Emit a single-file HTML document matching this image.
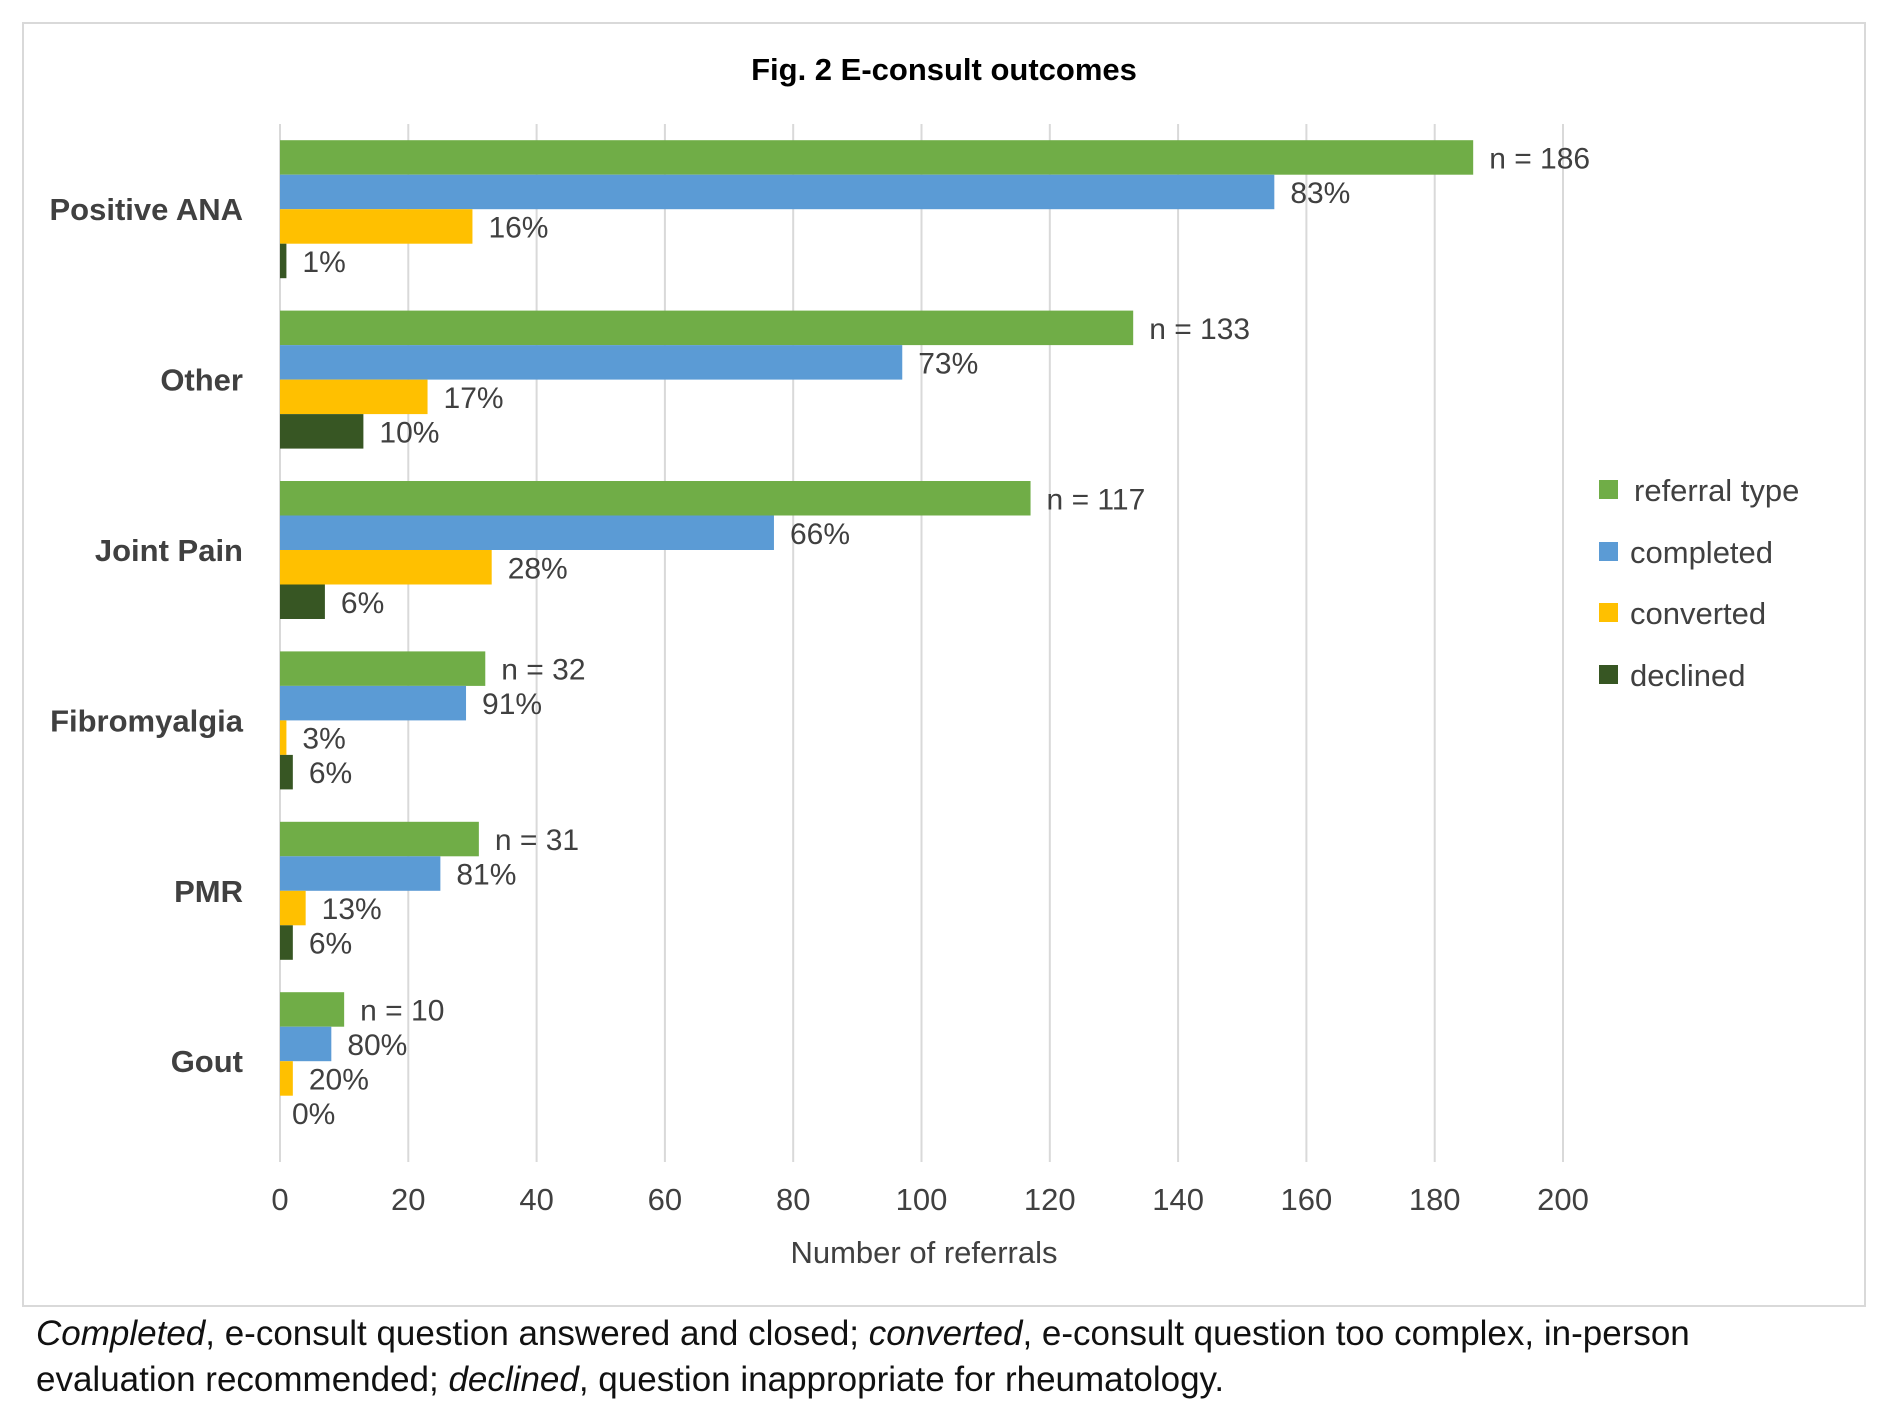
<!DOCTYPE html>
<html><head><meta charset="utf-8"><style>
body{margin:0;background:#fff;width:1888px;height:1410px;overflow:hidden;font-family:"Liberation Sans",sans-serif;}
svg text{font-family:"Liberation Sans",sans-serif;fill:#404040;}
</style></head><body>
<svg id="chart" width="1888" height="1410">
<rect x="23" y="23" width="1842" height="1283" fill="#fff" stroke="#d9d9d9" stroke-width="2"/>
<text x="944" y="80" text-anchor="middle" font-size="31" font-weight="bold" style="fill:#000">Fig. 2 E-consult outcomes</text>
<g id="grid"></g><g id="bars"></g><g id="labels"></g>
<text x="924" y="1263" text-anchor="middle" font-size="31">Number of referrals</text>
<g>
<g><rect x="1599" y="480" width="19" height="19" fill="#70ad47"/><text x="1634" y="501" font-size="31">referral type</text></g>
<g><rect x="1599" y="542" width="19" height="19" fill="#5b9bd5"/><text x="1630" y="563" font-size="31">completed</text></g>
<g><rect x="1599" y="603" width="19" height="19" fill="#ffc000"/><text x="1630" y="624" font-size="31">converted</text></g>
<g><rect x="1599" y="665" width="19" height="19" fill="#375623"/><text x="1630" y="686" font-size="31">declined</text></g>
</g>
<text font-size="35" style="fill:#111"><tspan x="36" y="1345"><tspan font-style="italic">Completed</tspan>, e-consult question answered and closed; <tspan font-style="italic">converted</tspan>, e-consult question too complex, in-person</tspan><tspan x="36" y="1391">evaluation recommended; <tspan font-style="italic">declined</tspan>, question inappropriate for rheumatology.</tspan></text>
</svg>
<script>
const categories=["Positive ANA","Other","Joint Pain","Fibromyalgia","PMR","Gout"];
const referral=[186,133,117,32,31,10];
const completed=[155,97,77,29,25,8];
const converted=[30,23,33,1,4,2];
const declined=[1,13,7,2,2,0];
const referralLabels=["n = 186","n = 133","n = 117","n = 32","n = 31","n = 10"];
const completedLabels=["83%","73%","66%","91%","81%","80%"];
const convertedLabels=["16%","17%","28%","3%","13%","20%"];
const declinedLabels=["1%","10%","6%","6%","6%","0%"];
const xTicks=[0,20,40,60,80,100,120,140,160,180,200];

const NS="http://www.w3.org/2000/svg";
const x0=280,pxPer=6.415,bandTop=124,band=170.4,barH=34.5,gridBottom=1162;
const xs=v=>x0+v*pxPer;
const grid=document.getElementById('grid'),bars=document.getElementById('bars'),labels=document.getElementById('labels');
function mk(tag,attrs,parent){const e=document.createElementNS(NS,tag);for(const k in attrs)e.setAttribute(k,attrs[k]);parent.appendChild(e);return e;}
xTicks.forEach(t=>{
  const l=mk('line',{x1:xs(t),x2:xs(t),y1:bandTop,y2:gridBottom,stroke:'#d9d9d9','stroke-width':2},grid);
  
  
  const tx=mk('text',{x:xs(t),y:1210,'text-anchor':'middle','font-size':31},grid);
  tx.textContent=t;
  
  
});
const series=[[referral,referralLabels,'#70ad47','referral'],[completed,completedLabels,'#5b9bd5','completed'],[converted,convertedLabels,'#ffc000','converted'],[declined,declinedLabels,'#375623','declined']];
categories.forEach((c,i)=>{
  const g0=bandTop+i*band+16.2;
  const ct=mk('text',{x:243,y:g0+2*barH+11,'text-anchor':'end','font-size':31,'font-weight':'bold'},labels);
  ct.textContent=c;
  
  
  series.forEach((s,j)=>{
    const y=g0+j*barH,v=s[0][i];
    const r=mk('rect',{x:x0,y:y,width:Math.max(0,xs(v)-x0),height:barH,fill:s[2]},bars);
    
    
    const t=mk('text',{x:xs(v)+(v>0?16:12),y:y+barH/2+11,'font-size':30},labels);
    t.textContent=s[1][i];
    
    
  });
});
</script>
</body></html>
